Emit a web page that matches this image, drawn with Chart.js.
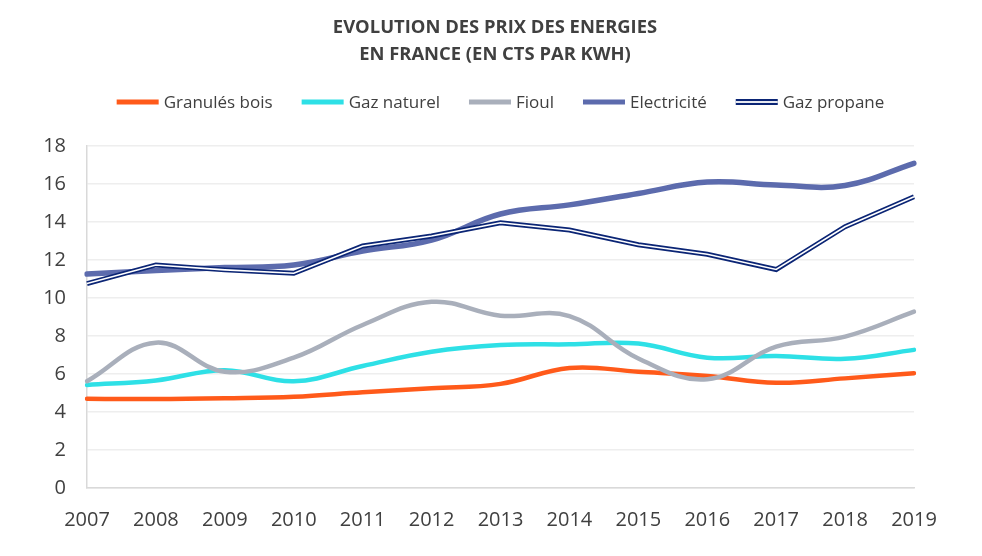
<!DOCTYPE html>
<html>
<head>
<meta charset="utf-8">
<script src="https://cdn.jsdelivr.net/npm/chart.js@4.4.1/dist/chart.umd.min.js"></script>
<style>
html,body{margin:0;padding:0;background:#fff;}
#wrap{width:982px;height:556px;position:relative;}
</style>
</head>
<body>
<div id="wrap"><canvas id="c" width="982" height="556"></canvas></div>
<script>
const titleLines = ["EVOLUTION DES PRIX DES ENERGIES", "EN FRANCE (EN CTS PAR KWH)"];
const years = ["2007","2008","2009","2010","2011","2012","2013","2014","2015","2016","2017","2018","2019"];
const yTicks = [0,2,4,6,8,10,12,14,16,18];
const seriesNames = ["Granulés bois","Gaz naturel","Fioul","Electricité","Gaz propane"];
const granules = [4.70,4.68,4.72,4.80,5.04,5.25,5.48,6.32,6.12,5.90,5.54,5.77,6.04];
const gazNaturel = [5.42,5.66,6.20,5.62,6.42,7.17,7.52,7.56,7.60,6.86,6.95,6.80,7.27];
const fioul = [5.62,7.65,6.12,6.86,8.58,9.80,9.07,9.05,6.82,5.72,7.44,7.97,9.28];
const electricite = [11.26,11.45,11.60,11.74,12.47,13.05,14.42,14.90,15.50,16.10,15.95,15.92,17.09];
const gazPropane = [10.76,11.74,11.48,11.30,12.74,13.26,13.96,13.58,12.80,12.30,11.50,13.75,15.33];

const colors = ["#FF5A1A","#2EE0E6","#A9AFBB","#5C6BAD","#0B2575"];
const textColor = "#404040";
const FONT = "'Open Sans', 'Noto Sans', sans-serif";

function smooth(label, data, color, order){
  return {label, data, borderColor: color, backgroundColor: color, borderWidth: 4.5,
    tension: 0.4, pointRadius: 0, pointHoverRadius: 0, fill: false, order,
    borderCapStyle: 'round', borderJoinStyle: 'round'};
}

const datasets = [
  smooth(seriesNames[0], granules, colors[0], 5),
  smooth(seriesNames[1], gazNaturel, colors[1], 4),
  smooth(seriesNames[2], fioul, colors[2], 3),
  Object.assign(smooth(seriesNames[3], electricite, colors[3], 2), {borderWidth: 5.5}),
  {label: seriesNames[4], data: gazPropane, borderColor: colors[4], borderWidth: 5, tension: 0,
    pointRadius: 0, pointHoverRadius: 0, fill: false, order: 1, borderJoinStyle: 'miter'},
  {label: "__overlay", data: gazPropane, borderColor: "#ffffff", borderWidth: 1.6, tension: 0,
    pointRadius: 0, pointHoverRadius: 0, fill: false, order: 0, borderJoinStyle: 'miter'}
];

const headerPlugin = {
  id: 'header',
  afterDraw(chart){
    const ctx = chart.ctx;
    ctx.save();
    ctx.fillStyle = textColor;
    ctx.textAlign = 'center';
    ctx.textBaseline = 'middle';
    ctx.font = "bold 18.4px " + FONT;
    ctx.fillText(titleLines[0], 495, 28);
    ctx.fillText(titleLines[1], 495, 55);
    // legend
    ctx.font = "17px " + FONT;
    const items = chart.data.datasets.filter(d => d.label !== "__overlay");
    const lineW = 42, gapLT = 5, gapItem = 29;
    let total = 0;
    const widths = items.map(d => ctx.measureText(d.label).width);
    widths.forEach(w => total += lineW + gapLT + w);
    total += gapItem * (items.length - 1);
    let x = 500.5 - total / 2;
    const y = 102;
    items.forEach((d, i) => {
      if (d.label === seriesNames[4]) {
        ctx.fillStyle = colors[4];
        ctx.fillRect(x, y - 3, lineW, 6);
        ctx.fillStyle = "#fff";
        ctx.fillRect(x, y - 0.9, lineW, 1.8);
      } else {
        ctx.fillStyle = d.borderColor;
        ctx.fillRect(x, y - 2.5, lineW, 5);
      }
      ctx.fillStyle = textColor;
      ctx.textAlign = 'left';
      ctx.fillText(d.label, x + lineW + gapLT, y + 1);
      x += lineW + gapLT + widths[i] + gapItem;
    });
    ctx.restore();
  }
};

new Chart(document.getElementById('c'), {
  type: 'line',
  data: {labels: years, datasets},
  options: {
    responsive: false,
    animation: false,
    devicePixelRatio: 1,
    layout: {padding: {top: 146, right: 68, left: 0, bottom: 0}},
    plugins: {legend: {display: false}, title: {display: false}, tooltip: {enabled: false}},
    scales: {
      x: {
        offset: false,
        grid: {display: false, drawTicks: false},
        border: {display: true, color: '#d9d9d9', width: 1.5},
        ticks: {color: textColor, font: {family: FONT, size: 20}, padding: 20, maxRotation: 0, autoSkip: false},
        afterFit(scale){ scale.height = 68; }
      },
      y: {
        min: 0, max: 18,
        afterBuildTicks(scale){ scale.ticks = yTicks.map(v => ({value: v})); },
        grid: {color: '#eeeeee', lineWidth: 1.5, drawTicks: false},
        border: {display: true, color: '#d9d9d9', width: 1.5},
        ticks: {color: textColor, font: {family: FONT, size: 20}, padding: 21},
        afterFit(scale){ scale.width = 87; }
      }
    }
  },
  plugins: [headerPlugin]
});
</script>
</body>
</html>
